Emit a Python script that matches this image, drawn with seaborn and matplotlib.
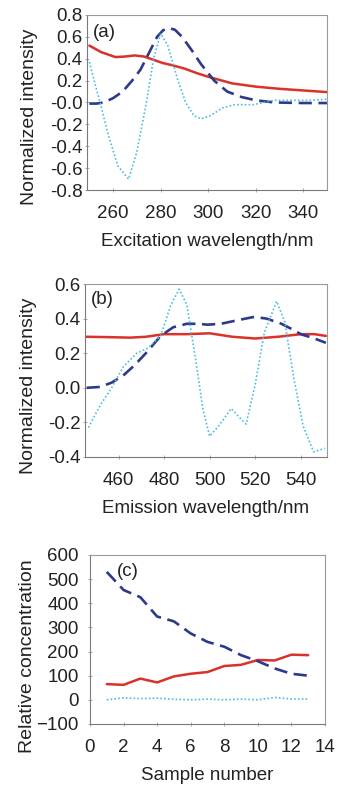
import numpy as np
import matplotlib
matplotlib.use("Agg")
import matplotlib.pyplot as plt
from matplotlib.ticker import FormatStrFormatter
import seaborn as sns

# panel (a): excitation spectra
ex_red_x = [250, 255, 261, 265, 269, 273, 277, 281, 285, 290, 295, 300, 305, 310, 315, 320, 330, 340, 350]
ex_red_y = [0.52, 0.46, 0.415, 0.42, 0.43, 0.42, 0.39, 0.36, 0.34, 0.31, 0.27, 0.235, 0.205, 0.175, 0.16, 0.145, 0.125, 0.11, 0.095]
ex_blue_x = [250, 253, 256, 260, 264, 268, 271.5, 275, 278.5, 281, 283.5, 286, 289, 293, 297, 302.5, 308, 314, 320, 328, 340, 350]
ex_blue_y = [-0.01, -0.01, 0.0, 0.04, 0.10, 0.20, 0.30, 0.45, 0.60, 0.66, 0.68, 0.665, 0.60, 0.48, 0.35, 0.20, 0.10, 0.05, 0.02, 0.0, -0.005, -0.005]
ex_cyan_x = [250, 252, 254.5, 258, 262, 266.5, 270, 274, 277, 280, 283, 287, 290.5, 294, 297, 301, 306, 311, 319, 328, 343, 350]
ex_cyan_y = [0.37, 0.20, 0.0, -0.30, -0.58, -0.70, -0.45, 0.0, 0.40, 0.63, 0.52, 0.22, 0.0, -0.12, -0.15, -0.12, -0.05, -0.02, -0.02, 0.02, 0.02, 0.03]

# panel (b): emission spectra
em_red_x = [446, 455, 465, 472, 480, 490, 500, 510, 520, 530, 540, 546, 551]
em_red_y = [0.295, 0.293, 0.29, 0.295, 0.31, 0.31, 0.315, 0.295, 0.285, 0.295, 0.31, 0.31, 0.30]
em_blue_x = [446, 452, 457, 462, 467, 472, 478.5, 484, 490, 495, 499, 505, 512, 519.5, 525, 531.5, 536, 540, 546, 551]
em_blue_y = [0.0, 0.005, 0.03, 0.07, 0.13, 0.20, 0.30, 0.35, 0.37, 0.37, 0.365, 0.37, 0.39, 0.41, 0.40, 0.37, 0.34, 0.31, 0.285, 0.26]
em_cyan_x = [446.8, 452, 457, 462, 468, 473, 478.5, 483, 486.6, 490, 494, 497, 500, 504, 509.5, 513, 516, 520, 524, 529.4, 533, 537, 541, 545.6, 550.6]
em_cyan_y = [-0.23, -0.10, 0.0, 0.12, 0.20, 0.23, 0.30, 0.48, 0.57, 0.48, 0.15, -0.12, -0.28, -0.22, -0.12, -0.17, -0.21, 0.02, 0.32, 0.50, 0.38, 0.05, -0.22, -0.37, -0.35]

# panel (c): concentrations per sample
samples = list(range(1, 14))
conc_blue = [530, 455, 425, 345, 325, 275, 240, 220, 185, 160, 130, 108, 100]
conc_red = [65, 62, 88, 72, 97, 108, 115, 140, 145, 165, 163, 187, 185]
conc_cyan = [0, 8, 5, 7, 2, 0, 3, 0, 3, 0, 10, 3, 3]

red = "#d8322a"
blue = "#2d3a8a"
cyan = "#4cbde2"

sns.set_style("white")
plt.rcParams['font.family'] = ['Liberation Sans', 'DejaVu Sans']

fig = plt.figure(figsize=(3.5, 7.96), dpi=100)
ax_a = fig.add_axes([0.2486, 0.7613, 0.6857, 0.2199])
ax_b = fig.add_axes([0.2429, 0.4259, 0.6914, 0.2173])
ax_c = fig.add_axes([0.2571, 0.0905, 0.6714, 0.2123])


def draw(ax, xr, yr, xb, yb, xc, yc):
    sns.lineplot(x=xr, y=yr, ax=ax, color=red, lw=1.8)
    sns.lineplot(x=xb, y=yb, ax=ax, color=blue, lw=1.9, linestyle=(0, (5, 2.5)))
    sns.lineplot(x=xc, y=yc, ax=ax, color=cyan, lw=1.2, linestyle=(0, (1, 1.3)))


draw(ax_a, ex_red_x, ex_red_y, ex_blue_x, ex_blue_y, ex_cyan_x, ex_cyan_y)
draw(ax_b, em_red_x, em_red_y, em_blue_x, em_blue_y, em_cyan_x, em_cyan_y)
draw(ax_c, samples, conc_red, samples, conc_blue, samples, conc_cyan)

ax_a.set_xlim(249, 350)
ax_a.set_ylim(-0.8, 0.8)
ax_a.set_xticks([260, 280, 300, 320, 340])
ax_a.set_yticks(np.arange(-0.8, 0.81, 0.2))
ax_a.yaxis.set_major_formatter(FormatStrFormatter('%.1f'))
ax_a.set_xlabel("Excitation wavelength/nm")
ax_a.set_ylabel("Normalized intensity")

ax_b.set_xlim(445.3, 551.5)
ax_b.set_ylim(-0.4, 0.6)
ax_b.set_xticks([460, 480, 500, 520, 540])
ax_b.set_yticks(np.arange(-0.4, 0.61, 0.2))
ax_b.yaxis.set_major_formatter(FormatStrFormatter('%.1f'))
ax_b.set_xlabel("Emission wavelength/nm")
ax_b.set_ylabel("Normalized intensity")

ax_c.set_xlim(0, 14)
ax_c.set_ylim(-100, 600)
ax_c.set_xticks(range(0, 15, 2))
ax_c.set_yticks(range(-100, 601, 100))
ax_c.set_xlabel("Sample number")
ax_c.set_ylabel("Relative concentration")

panels = [(ax_a, "(a)", 0.025, 0.95, 1.5, 0.42, -0.205),
          (ax_b, "(b)", 0.025, 0.96, 1.5, 0.41, -0.197),
          (ax_c, "(c)", 0.115, 0.95, 6.5, 0.40, -0.228)]
for ax, tag, tx, ty, ypad, ly, lx in panels:
    ax.text(tx, ty, tag, transform=ax.transAxes, ha='left', va='top', fontsize=13.5, color='#222222')
    ax.xaxis.label.set_size(13.5)
    ax.yaxis.label.set_size(14)
    ax.xaxis.label.set_color('#222222')
    ax.yaxis.label.set_color('#222222')
    ax.tick_params(labelsize=13.5, labelcolor='#222222', length=3, width=0.6, color='#999999',
                   bottom=True, left=True, direction='inout')
    ax.tick_params(axis='x', pad=9)
    ax.tick_params(axis='y', pad=ypad)
    ax.xaxis.labelpad = 8
    ax.yaxis.set_label_coords(lx, ly)
    for s in ax.spines.values():
        s.set_color('#9a9a9a')
        s.set_linewidth(0.8)
    ax.spines['left'].set_color('#7a7a7a')
    ax.spines['bottom'].set_color('#7a7a7a')

fig.savefig("out.png", dpi=100)
